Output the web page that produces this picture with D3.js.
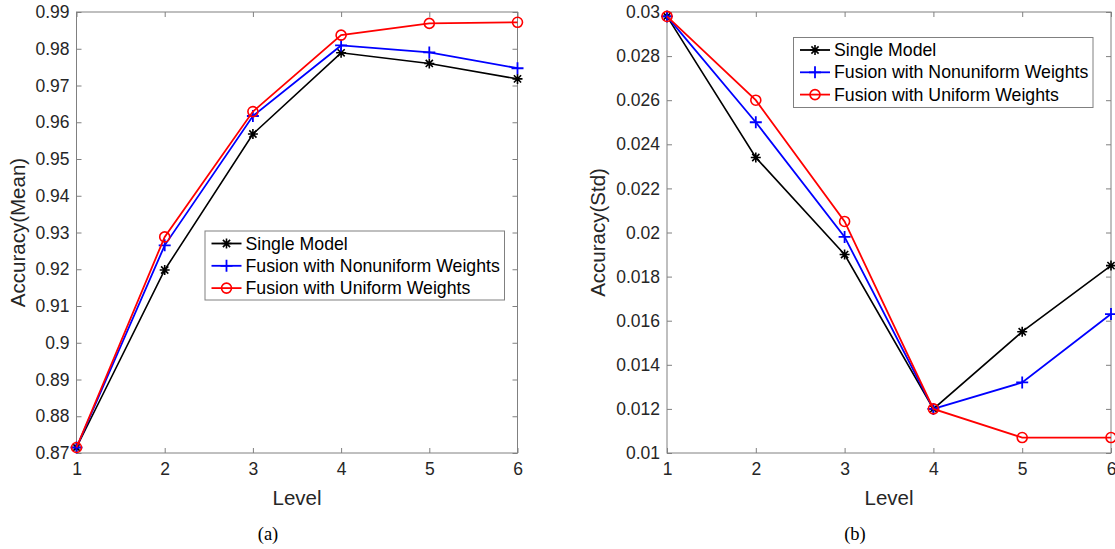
<!DOCTYPE html>
<html>
<head>
<meta charset="utf-8">
<script src="https://cdn.jsdelivr.net/npm/d3@7"></script>
<style>
  html, body { margin: 0; padding: 0; background: #fff; }
  svg { display: block; }
</style>
</head>
<body>
<svg id="chart" width="1115" height="549"></svg>
<script>
// Levels on the x axis
const levels = [1, 2, 3, 4, 5, 6];

// Panel (a): mean accuracy per level
const meanSingle     = [0.8715, 0.9198, 0.9568, 0.9789, 0.9760, 0.9718];
const meanNonuniform = [0.8715, 0.9265, 0.9617, 0.9809, 0.9790, 0.9747];
const meanUniform    = [0.8715, 0.9288, 0.9629, 0.9837, 0.9869, 0.9872];
const meanTicks = [0.87, 0.88, 0.89, 0.9, 0.91, 0.92, 0.93, 0.94, 0.95, 0.96, 0.97, 0.98, 0.99];

// Panel (b): standard deviation of accuracy per level
const stdSingle     = [0.0298, 0.0234, 0.0190, 0.0120, 0.0155, 0.0185];
const stdNonuniform = [0.0298, 0.0250, 0.0198, 0.0120, 0.0132, 0.0163];
const stdUniform    = [0.0298, 0.0260, 0.0205, 0.0120, 0.0107, 0.0107];
const stdTicks = [0.01, 0.012, 0.014, 0.016, 0.018, 0.02, 0.022, 0.024, 0.026, 0.028, 0.03];

const seriesNames = ["Single Model", "Fusion with Nonuniform Weights", "Fusion with Uniform Weights"];
const seriesColors = ["#000000", "#0000ff", "#ff0000"];
const seriesMarkers = ["star", "plus", "circle"];

const svg = d3.select("#chart");
const FONT = "'Liberation Sans', Arial, Helvetica, sans-serif";
const AXIS_COLOR = "#808080";
const TEXT_COLOR = "#262626";

function drawMarker(g, type, x, y, color) {
  if (type === "star") {
    const r = 5;
    const d = r * 0.72;
    g.append("path")
      .attr("d", `M${x - r},${y}L${x + r},${y}M${x},${y - r}L${x},${y + r}` +
                 `M${x - d},${y - d}L${x + d},${y + d}M${x - d},${y + d}L${x + d},${y - d}`)
      .attr("stroke", color).attr("stroke-width", 1.6).attr("fill", "none");
  } else if (type === "plus") {
    const r = 6;
    g.append("path")
      .attr("d", `M${x - r},${y}L${x + r},${y}M${x},${y - r}L${x},${y + r}`)
      .attr("stroke", color).attr("stroke-width", 1.8).attr("fill", "none");
  } else {
    g.append("circle")
      .attr("cx", x).attr("cy", y).attr("r", 5)
      .attr("stroke", color).attr("stroke-width", 1.6).attr("fill", "none");
  }
}

function panel(opts) {
  const { left, right, top, bottom, yDomain, yTicks, series, yLabel, caption, legend } = opts;
  const g = svg.append("g");

  const x = d3.scaleLinear().domain([1, 6]).range([left, right]);
  const y = d3.scaleLinear().domain(yDomain).range([bottom, top]);

  // Plot area clip so lines stay inside the box
  const clipId = "clip" + Math.round(left);
  svg.append("clipPath").attr("id", clipId)
    .append("rect").attr("x", left - 8).attr("y", top - 8)
    .attr("width", right - left + 16).attr("height", bottom - top + 16);

  // Box
  g.append("rect")
    .attr("x", left).attr("y", top)
    .attr("width", right - left).attr("height", bottom - top)
    .attr("fill", "none").attr("stroke", AXIS_COLOR).attr("stroke-width", 1);

  // Axes with inward ticks
  const tickLen = 5;
  const xAxisB = d3.axisBottom(x).tickValues(levels).tickSize(-tickLen).tickPadding(10).tickFormat(d3.format("d"));
  const xAxisT = d3.axisTop(x).tickValues(levels).tickSize(-tickLen).tickFormat("");
  const yAxisL = d3.axisLeft(y).tickValues(yTicks).tickSize(-tickLen).tickPadding(7).tickFormat(d => String(+d.toFixed(4)));
  const yAxisR = d3.axisRight(y).tickValues(yTicks).tickSize(-tickLen).tickFormat("");

  const axes = [
    g.append("g").attr("transform", `translate(0,${bottom})`).call(xAxisB),
    g.append("g").attr("transform", `translate(0,${top})`).call(xAxisT),
    g.append("g").attr("transform", `translate(${left},0)`).call(yAxisL),
    g.append("g").attr("transform", `translate(${right},0)`).call(yAxisR)
  ];
  axes.forEach(a => {
    a.select(".domain").remove();
    a.selectAll(".tick line").attr("stroke", AXIS_COLOR);
    a.selectAll(".tick text")
      .attr("fill", TEXT_COLOR)
      .style("font-family", FONT)
      .style("font-size", "17.5px");
  });

  // Axis titles
  g.append("text")
    .attr("x", (left + right) / 2).attr("y", 505)
    .attr("text-anchor", "middle")
    .attr("fill", TEXT_COLOR)
    .style("font-family", FONT).style("font-size", "20.5px")
    .text("Level");
  g.append("text")
    .attr("transform", `translate(${opts.yLabelX},${(top + bottom) / 2}) rotate(-90)`)
    .attr("text-anchor", "middle")
    .attr("dy", "0.35em")
    .attr("fill", TEXT_COLOR)
    .style("font-family", FONT).style("font-size", "20.5px")
    .text(yLabel);

  // Caption under each panel
  svg.append("text")
    .attr("x", opts.captionX).attr("y", 540)
    .attr("text-anchor", "middle")
    .attr("fill", "#000")
    .style("font-family", "'Liberation Serif', 'Times New Roman', serif")
    .style("font-size", "18.5px")
    .text(caption);

  // Series lines and markers
  const plot = g.append("g").attr("clip-path", `url(#${clipId})`);
  const line = d3.line().x((d, i) => x(levels[i])).y(d => y(d));
  series.forEach((vals, k) => {
    plot.append("path")
      .datum(vals)
      .attr("d", line)
      .attr("fill", "none")
      .attr("stroke", seriesColors[k])
      .attr("stroke-width", k === 0 ? 1.6 : 1.8);
    vals.forEach((v, i) => drawMarker(plot, seriesMarkers[k], x(levels[i]), y(v), seriesColors[k]));
  });

  // Legend
  const lg = g.append("g");
  lg.append("rect")
    .attr("x", legend.x).attr("y", legend.y)
    .attr("width", legend.w).attr("height", legend.h)
    .attr("fill", "#fff").attr("stroke", AXIS_COLOR).attr("stroke-width", 1);
  seriesNames.forEach((name, k) => {
    const ry = legend.y + 12.5 + k * 22.3;
    lg.append("line")
      .attr("x1", legend.x + 6.5).attr("x2", legend.x + 36.5)
      .attr("y1", ry).attr("y2", ry)
      .attr("stroke", seriesColors[k]).attr("stroke-width", 1.8);
    drawMarker(lg, seriesMarkers[k], legend.x + 21.5, ry, seriesColors[k]);
    lg.append("text")
      .attr("x", legend.x + 40.5).attr("y", ry)
      .attr("dy", "0.35em")
      .attr("fill", "#000")
      .style("font-family", FONT).style("font-size", "17.7px")
      .text(name);
  });
}

panel({
  left: 76.5, right: 517.5, top: 12, bottom: 453,
  yDomain: [0.87, 0.99], yTicks: meanTicks,
  series: [meanSingle, meanNonuniform, meanUniform],
  yLabel: "Accuracy(Mean)", yLabelX: 18,
  caption: "(a)", captionX: 268,
  legend: { x: 205, y: 231, w: 299.5, h: 69 }
});

panel({
  left: 667, right: 1111, top: 12, bottom: 453,
  yDomain: [0.01, 0.03], yTicks: stdTicks,
  series: [stdSingle, stdNonuniform, stdUniform],
  yLabel: "Accuracy(Std)", yLabelX: 598,
  caption: "(b)", captionX: 855,
  legend: { x: 793.5, y: 37.5, w: 299.5, h: 70 }
});
</script>
</body>
</html>
